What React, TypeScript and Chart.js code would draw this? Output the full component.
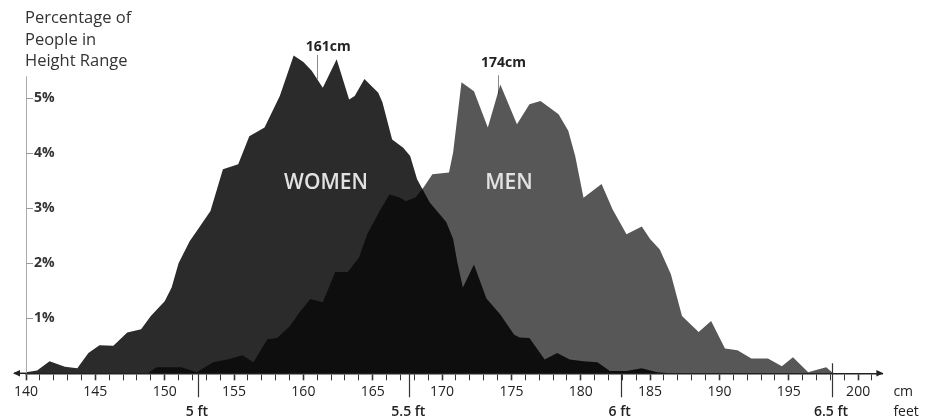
import { useEffect, useRef } from "react";
import { Chart, registerables } from "chart.js";

Chart.register(...registerables);

// ---------- data ----------
const womenHeightCm = [
  140.0, 140.8, 141.7, 142.8, 143.7, 144.5, 145.3, 146.3, 147.3, 148.3, 149.0, 150.0, 150.5, 151.0,
  151.8, 152.4, 153.3, 154.2, 155.3, 156.1, 157.2, 158.3, 159.3, 160.0, 160.6, 161.4, 162.4, 163.3,
  163.7, 164.4, 165.4, 165.7, 166.4, 167.2, 167.7, 168.2, 169.1, 170.3, 170.8, 171.1, 171.5, 172.3,
  173.2, 174.2, 175.2, 175.6, 176.3, 177.4, 178.3, 179.2, 180.2, 181.2, 182.1, 183.3, 184.4, 185.5,
  186.5,
];
const womenPercent = [
  0.02, 0.05, 0.22, 0.12, 0.09, 0.37, 0.51, 0.5, 0.74, 0.8, 1.04, 1.31, 1.56, 2.0,
  2.4, 2.62, 2.95, 3.71, 3.8, 4.31, 4.47, 5.04, 5.78, 5.66, 5.5, 5.19, 5.71, 4.98,
  5.04, 5.35, 5.1, 4.93, 4.25, 4.1, 3.95, 3.53, 3.11, 2.75, 2.44, 2.02, 1.56, 1.98,
  1.36, 1.07, 0.7, 0.65, 0.64, 0.25, 0.37, 0.25, 0.22, 0.2, 0.04, 0.04, 0.09, 0.02,
  0,
];
const menHeightCm = [
  148.8, 149.4, 151.2, 152.3, 153.5, 154.5, 155.6, 156.4, 157.4, 158.1, 159.0, 159.7, 160.5, 161.4,
  162.3, 163.2, 164.0, 164.6, 165.5, 166.2, 166.9, 167.4, 168.1, 168.7, 169.3, 170.5, 170.8, 171.4,
  172.3, 173.3, 174.2, 175.4, 176.3, 177.1, 178.4, 179.1, 179.6, 180.2, 181.5, 182.3, 183.3, 184.4,
  185.0, 185.7, 186.5, 187.3, 188.5, 189.4, 190.4, 191.3, 192.3, 193.5, 194.5, 195.3, 196.4, 197.1,
  197.7, 198.2,
];
const menPercent = [
  0, 0.11, 0.11, 0.02, 0.2, 0.25, 0.33, 0.2, 0.62, 0.64, 0.85, 1.1, 1.35, 1.29,
  1.84, 1.84, 2.1, 2.53, 2.95, 3.25, 3.2, 3.13, 3.2, 3.39, 3.62, 3.65, 4.02, 5.29,
  5.13, 4.47, 5.25, 4.53, 4.89, 4.95, 4.71, 4.41, 3.95, 3.19, 3.44, 2.98, 2.53, 2.67,
  2.44, 2.25, 1.8, 1.04, 0.75, 0.95, 0.45, 0.42, 0.27, 0.27, 0.13, 0.29, 0.02, 0.07,
  0.11, 0,
];
const yTickValues = [1, 2, 3, 4, 5];
const feetTickCm = [152.4, 167.64, 182.88, 198.12];
const feetTickLabels = ["5 ft", "5.5 ft", "6 ft", "6.5 ft"];
const medianCm = [161, 174];
const medianLabels = ["161cm", "174cm"];
const groupLabels = ["WOMEN", "MEN"];
const titleLines = ["Percentage of", "People in", "Height Range"];
const unitLabels = ["cm", "feet"];

// ---------- styling / layout ----------
const FONT = '"Open Sans", "DejaVu Sans", sans-serif';
const Y_AXIS_TOP_PCT = 5.4;
const MEDIAN_TEXT_PCT = [5.93, 5.64];
const MEDIAN_LINE_TOP_PCT = [5.79, 5.42];
const MEDIAN_TEXT_DX = [11, 6];
const GROUP_LABEL_CM = [161.63, 174.82];
const GROUP_LABEL_PCT = 3.46;

function valueAt(xs: number[], ys: number[], v: number) {
  if (v <= xs[0] || v >= xs[xs.length - 1]) return 0;
  for (let i = 0; i < xs.length - 1; i++) {
    if (v >= xs[i] && v <= xs[i + 1]) {
      const t = (v - xs[i]) / (xs[i + 1] - xs[i]);
      return ys[i] + t * (ys[i + 1] - ys[i]);
    }
  }
  return 0;
}
const medianSeries = [
  (v: number) => valueAt(womenHeightCm, womenPercent, v),
  (v: number) => valueAt(menHeightCm, menPercent, v),
];
const maxSeriesAt = (v: number) =>
  Math.max(valueAt(womenHeightCm, womenPercent, v), valueAt(menHeightCm, menPercent, v));

const decor = {
  id: "decor",
  beforeDatasetsDraw(chart: any) {
    const { ctx, scales } = chart;
    const x = scales.x;
    const y = scales.y;
    ctx.save();
    ctx.strokeStyle = "#8a8a8a";
    ctx.lineWidth = 1;
    medianCm.forEach((cm, i) => {
      const px = Math.round(x.getPixelForValue(cm)) + 0.5;
      ctx.beginPath();
      ctx.moveTo(px, y.getPixelForValue(MEDIAN_LINE_TOP_PCT[i]));
      ctx.lineTo(px, y.getPixelForValue(medianSeries[i](cm)));
      ctx.stroke();
    });
    ctx.restore();
  },
  afterDraw(chart: any) {
    const { ctx, scales } = chart;
    const x = scales.x;
    const y = scales.y;
    const yb = y.bottom;
    const axisTop = y.getPixelForValue(Y_AXIS_TOP_PCT);
    ctx.save();

    // y axis line
    ctx.strokeStyle = "#aaa";
    ctx.lineWidth = 1;
    ctx.beginPath();
    ctx.moveTo(Math.round(x.left) + 0.5, axisTop);
    ctx.lineTo(Math.round(x.left) + 0.5, yb);
    ctx.stroke();

    // y tick marks
    ctx.strokeStyle = "#999";
    yTickValues.forEach((v) => {
      const py = Math.round(y.getPixelForValue(v)) + 0.5;
      ctx.beginPath();
      ctx.moveTo(x.left, py);
      ctx.lineTo(x.left + 7, py);
      ctx.stroke();
    });

    // feet ticks
    ctx.strokeStyle = "#333";
    ctx.lineWidth = 1.2;
    feetTickCm.forEach((cm) => {
      const px = Math.round(x.getPixelForValue(cm)) + 0.5;
      const top = maxSeriesAt(cm) < 0.18 ? yb - 10 : yb;
      ctx.beginPath();
      ctx.moveTo(px, top);
      ctx.lineTo(px, yb + 24);
      ctx.stroke();
    });

    // x axis extension + arrowheads
    ctx.strokeStyle = "#222";
    ctx.fillStyle = "#222";
    ctx.lineWidth = 1.5;
    ctx.beginPath();
    ctx.moveTo(x.left, yb);
    ctx.lineTo(x.left - 12, yb);
    ctx.stroke();
    ctx.beginPath();
    ctx.moveTo(x.left - 13, yb);
    ctx.lineTo(x.left - 6, yb - 3.2);
    ctx.lineTo(x.left - 6, yb + 3.2);
    ctx.closePath();
    ctx.fill();
    ctx.beginPath();
    ctx.moveTo(x.right + 1, yb);
    ctx.lineTo(x.right - 6, yb - 3.2);
    ctx.lineTo(x.right - 6, yb + 3.2);
    ctx.closePath();
    ctx.fill();

    // feet labels
    ctx.textBaseline = "middle";
    ctx.textAlign = "center";
    ctx.fillStyle = "#222";
    ctx.font = `600 14px ${FONT}`;
    feetTickCm.forEach((cm, i) => {
      ctx.fillText(feetTickLabels[i], x.getPixelForValue(cm) - 1, yb + 39);
    });

    // unit labels
    ctx.textAlign = "left";
    ctx.font = `14px ${FONT}`;
    ctx.fillText(unitLabels[0], x.right + 11, yb + 19);
    ctx.fillText(unitLabels[1], x.right + 11, yb + 39);

    // title
    ctx.fillStyle = "#333";
    ctx.font = `16.5px ${FONT}`;
    titleLines.forEach((t, i) => {
      ctx.fillText(t, x.left - 1, axisTop - 58 + i * 21.5);
    });

    // median labels
    ctx.textAlign = "center";
    ctx.fillStyle = "#222";
    ctx.font = `bold 14px ${FONT}`;
    medianCm.forEach((cm, i) => {
      ctx.fillText(
        medianLabels[i],
        x.getPixelForValue(cm) + MEDIAN_TEXT_DX[i],
        y.getPixelForValue(MEDIAN_TEXT_PCT[i])
      );
    });

    // group labels
    ctx.fillStyle = "#e2e2e2";
    ctx.font = `600 21px ${FONT}`;
    groupLabels.forEach((g, i) => {
      ctx.fillText(g, x.getPixelForValue(GROUP_LABEL_CM[i]), y.getPixelForValue(GROUP_LABEL_PCT));
    });

    ctx.restore();
  },
};

export default function App() {
  const canvasRef = useRef<HTMLCanvasElement | null>(null);

  useEffect(() => {
    const canvas = canvasRef.current;
    if (!canvas) return;
    const chart = new Chart(canvas, {
      type: "line",
      data: {
        datasets: [
          {
            label: "Men",
            data: menHeightCm.map((c, i) => ({ x: c, y: menPercent[i] })),
            backgroundColor: "rgba(0,0,0,0.66)",
            borderColor: "rgba(0,0,0,0)",
            borderWidth: 0,
            fill: "origin",
            pointRadius: 0,
            tension: 0,
          },
          {
            label: "Women",
            data: womenHeightCm.map((c, i) => ({ x: c, y: womenPercent[i] })),
            backgroundColor: "#2b2b2b",
            borderColor: "rgba(0,0,0,0)",
            borderWidth: 0,
            fill: "origin",
            pointRadius: 0,
            tension: 0,
          },
        ],
      },
      options: {
        animation: false,
        responsive: true,
        maintainAspectRatio: false,
        layout: { padding: { top: 43.3, right: 43.6, bottom: 0, left: 0 } },
        plugins: {
          legend: { display: false },
          tooltip: { enabled: false },
          title: { display: false },
        },
        scales: {
          x: {
            type: "linear",
            min: 140,
            max: 201.75,
            z: 1,
            afterFit: (s: any) => {
              s.height = 44.7;
            },
            border: { display: true, color: "#222", width: 1.5 },
            grid: {
              drawOnChartArea: false,
              drawTicks: true,
              tickLength: 7,
              tickColor: "#333",
              tickWidth: (c: any) => (c.tick && c.tick.value % 5 === 0 ? 1.6 : 1),
            },
            ticks: {
              stepSize: 1,
              autoSkip: false,
              maxRotation: 0,
              includeBounds: false,
              padding: 3,
              color: "#222",
              font: { family: FONT, size: 14 },
              callback: (v: any) => (Number(v) % 5 === 0 ? String(v) : ""),
            },
          },
          y: {
            min: 0,
            max: 6,
            z: 1,
            afterFit: (s: any) => {
              s.width = 26;
            },
            border: { display: false },
            grid: {
              drawTicks: false,
              color: (c: any) =>
                c.tick && c.tick.value >= 1 && c.tick.value <= 5
                  ? "rgba(255,255,255,0.72)"
                  : "rgba(0,0,0,0)",
              lineWidth: 1.6,
            },
            ticks: {
              stepSize: 1,
              mirror: true,
              padding: 8,
              includeBounds: false,
              color: "#333",
              font: { family: FONT, size: 14, weight: "bold" },
              callback: (v: any) => (Number(v) >= 1 && Number(v) <= 5 ? `${v}%` : ""),
            },
          },
        },
      },
      plugins: [decor],
    } as any);
    return () => chart.destroy();
  }, []);

  return (
    <div
      style={{
        position: "fixed",
        left: 0,
        top: 0,
        width: 926,
        height: 418,
        background: "#fff",
      }}
    >
      <canvas ref={canvasRef} />
    </div>
  );
}
